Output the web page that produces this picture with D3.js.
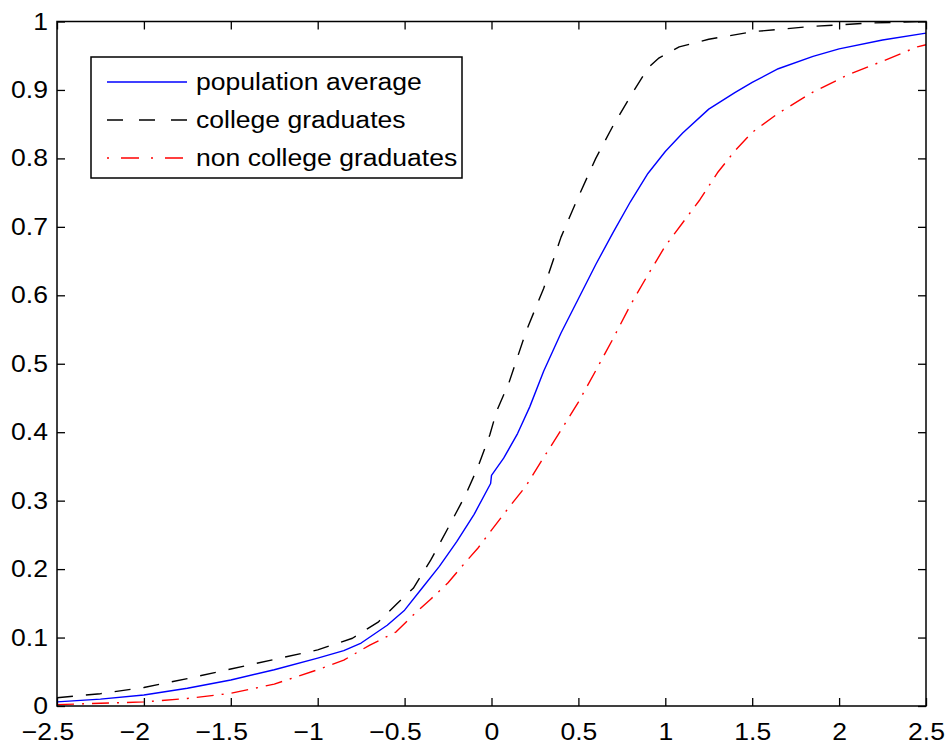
<!DOCTYPE html>
<html>
<head>
<meta charset="utf-8">
<script src="https://cdn.jsdelivr.net/npm/d3@7"></script>
<style>
  html, body { margin: 0; padding: 0; background: #fff; }
  svg { display: block; }
  text { font-family: "Liberation Sans", Arial, Helvetica, sans-serif; fill: #000; }
</style>
</head>
<body>
<svg id="chart" width="946" height="745"></svg>
<script>
// Cumulative distributions by group
const popX  = [-2.5,-2.25,-2,-1.75,-1.5,-1.25,-1,-0.85,-0.75,-0.6,-0.5,-0.4,-0.3,-0.2,-0.1,-0.005,0,0.07,0.15,0.22,0.3,0.4,0.5,0.6,0.7,0.8,0.9,1,1.1,1.25,1.4,1.5,1.65,1.85,2,2.25,2.5];
const popY  = [0.006,0.010,0.016,0.026,0.038,0.053,0.070,0.081,0.092,0.118,0.140,0.172,0.204,0.240,0.280,0.325,0.337,0.362,0.398,0.437,0.489,0.545,0.595,0.645,0.692,0.737,0.778,0.810,0.837,0.872,0.896,0.911,0.931,0.949,0.960,0.973,0.983];

const gradX = [-2.5,-2.25,-2,-1.75,-1.5,-1.25,-1,-0.8,-0.65,-0.55,-0.45,-0.35,-0.25,-0.15,-0.08,-0.01,0.03,0.1,0.2,0.3,0.4,0.5,0.6,0.7,0.8,0.9,0.96,1.08,1.25,1.5,1.85,2.2,2.5];
const gradY = [0.012,0.018,0.027,0.040,0.054,0.068,0.082,0.099,0.123,0.148,0.172,0.213,0.260,0.308,0.348,0.396,0.431,0.472,0.548,0.610,0.685,0.744,0.800,0.848,0.891,0.932,0.946,0.963,0.974,0.985,0.993,0.998,1.0];

const nonX  = [-2.5,-2.25,-2,-1.75,-1.5,-1.25,-1,-0.85,-0.7,-0.55,-0.45,-0.35,-0.25,-0.15,-0.08,0,0.1,0.2,0.3,0.4,0.5,0.6,0.7,0.8,0.9,1,1.1,1.2,1.3,1.4,1.5,1.65,1.85,2.05,2.25,2.45,2.5];
const nonY  = [0.002,0.004,0.006,0.011,0.0185,0.032,0.053,0.067,0.089,0.108,0.133,0.156,0.180,0.210,0.230,0.257,0.290,0.322,0.363,0.403,0.444,0.490,0.537,0.586,0.630,0.672,0.706,0.740,0.779,0.811,0.838,0.866,0.897,0.922,0.942,0.963,0.966];

const seriesNames = ["population average", "college graduates", "non college graduates"];

const xTicks = [-2.5,-2,-1.5,-1,-0.5,0,0.5,1,1.5,2,2.5];
const xTickLabels = ["\u22122.5","\u22122","\u22121.5","\u22121","\u22120.5","0","0.5","1","1.5","2","2.5"];
const yTicks = [0,0.1,0.2,0.3,0.4,0.5,0.6,0.7,0.8,0.9,1];
const yTickLabels = ["0","0.1","0.2","0.3","0.4","0.5","0.6","0.7","0.8","0.9","1"];

const svg = d3.select("#chart");
const plotLeft = 57, plotRight = 926, plotTop = 21.5, plotBottom = 706;
const fontSize = 23.5, stretch = 1.13;

const x = d3.scaleLinear().domain([-2.5, 2.5]).range([plotLeft, plotRight]);
const y = d3.scaleLinear().domain([0, 1]).range([plotBottom, plotTop]);

svg.append("rect").attr("width", 946).attr("height", 745).attr("fill", "#fff");

const series = [
  { xs: popX,  ys: popY,  color: "#0000ff", dash: null },
  { xs: gradX, ys: gradY, color: "#000000", dash: "16,13" },
  { xs: nonX,  ys: nonY,  color: "#ff0000", dash: "17,8,2,8" }
];

const line = d3.line()
  .x(d => x(d[0]))
  .y(d => y(d[1]))
  .curve(d3.curveLinear);

const plot = svg.append("g");
series.forEach(s => {
  const pts = s.xs.map((v, i) => [v, s.ys[i]]);
  plot.append("path")
    .attr("d", line(pts))
    .attr("fill", "none")
    .attr("stroke", s.color)
    .attr("stroke-width", 1.4)
    .attr("stroke-linejoin", "round")
    .attr("stroke-dasharray", s.dash);
});

// Axes with inward ticks, mirrored on top and right
function styleAxis(g) {
  g.select(".domain").remove();
  g.selectAll(".tick line").attr("stroke", "#000").attr("stroke-width", 1.3);
  g.selectAll("text").attr("font-size", fontSize).attr("font-family", null);
}

const gx = svg.append("g").attr("transform", `translate(0,${plotBottom})`)
  .call(d3.axisBottom(x).tickValues(xTicks).tickSizeInner(-8).tickSizeOuter(0).tickPadding(17)
    .tickFormat((d, i) => xTickLabels[i]));
styleAxis(gx);
gx.selectAll("text")
  .attr("transform", `scale(${stretch},1)`)
  .attr("dx", (d) => d < 0 ? "-0.36em" : 0);

const gy = svg.append("g").attr("transform", `translate(${plotLeft},0)`)
  .call(d3.axisLeft(y).tickValues(yTicks).tickSizeInner(-8).tickSizeOuter(0).tickPadding(8)
    .tickFormat((d, i) => yTickLabels[i]));
styleAxis(gy);
gy.selectAll("text").attr("transform", `scale(${stretch},1)`);

const gt = svg.append("g").attr("transform", `translate(0,${plotTop})`)
  .call(d3.axisTop(x).tickValues(xTicks).tickSizeInner(-8).tickSizeOuter(0).tickFormat(""));
styleAxis(gt);

const gr = svg.append("g").attr("transform", `translate(${plotRight},0)`)
  .call(d3.axisRight(y).tickValues(yTicks).tickSizeInner(-8).tickSizeOuter(0).tickFormat(""));
styleAxis(gr);

// Plot frame
svg.append("rect")
  .attr("x", plotLeft).attr("y", plotTop)
  .attr("width", plotRight - plotLeft).attr("height", plotBottom - plotTop)
  .attr("fill", "none").attr("stroke", "#000").attr("stroke-width", 1.5);

// Legend
const legend = svg.append("g");
legend.append("rect")
  .attr("x", 91).attr("y", 57).attr("width", 371).attr("height", 121)
  .attr("fill", "#fff").attr("stroke", "#000").attr("stroke-width", 1.5);

const rowY = [82, 120, 158];
const legendDash = [null, "16,16", "2,12,18,12"];
series.forEach((s, i) => {
  legend.append("line")
    .attr("x1", 107).attr("x2", 187)
    .attr("y1", rowY[i]).attr("y2", rowY[i])
    .attr("stroke", s.color).attr("stroke-width", 1.4)
    .attr("stroke-dasharray", legendDash[i]);
  legend.append("text")
    .attr("transform", `translate(196,${rowY[i] + 8}) scale(${stretch},1)`)
    .attr("font-size", fontSize)
    .text(seriesNames[i]);
});
</script>
</body>
</html>
